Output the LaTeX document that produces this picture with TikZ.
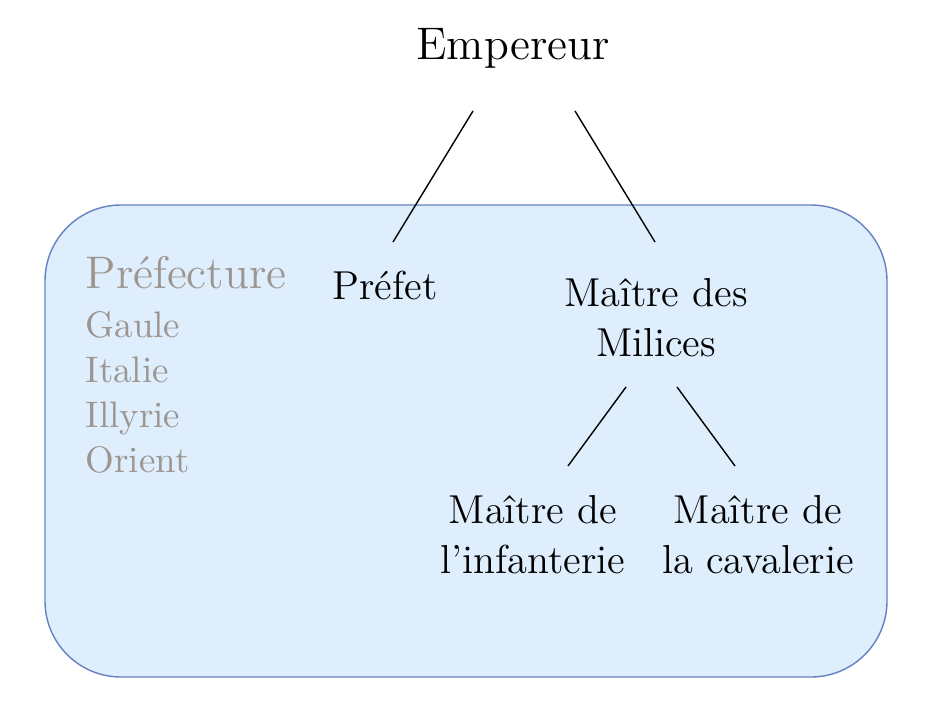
\documentclass[tikz,border=0pt]{standalone}
\usepackage{tikz}
\usetikzlibrary{positioning}
\usetikzlibrary{calc}
\definecolor{fondbleu}{HTML}{DEEEFD}
\definecolor{bordbleu}{HTML}{6482C2}
\definecolor{grisprov}{HTML}{9C9690}
\tikzstyle{cadre}=[draw=bordbleu,fill=fondbleu,rounded corners=0.76cm,line width=0.4pt]
\tikzstyle{titre}=[text=black,font=\fontsize{13}{16}\selectfont,inner sep=2pt]
\tikzstyle{poste}=[text=black,align=center,font=\fontsize{11.5}{14.2}\selectfont,inner sep=2pt]
\tikzstyle{region}=[text=grisprov,anchor=base west,font=\fontsize{10.5}{12}\selectfont,inner sep=0pt]
\tikzstyle{lien}=[-,line width=0.4pt,black]

\begin{document}
\begin{tikzpicture}
\useasboundingbox (0,0) rectangle (9.38,7.24);
\draw[cadre] (0.45,0.47) rectangle (8.87,5.19);
\node[titre] (emp) at (5.13,6.76) {Empereur};
\node[poste] (prefet) at (3.85,4.39) {Préfet};
\node[poste] (milices) at (6.56,4.06) {Maître des\\Milices};
\node[poste] (infant) at (5.33,1.89) {Maître de\\l'infanterie};
\node[poste] (caval) at (7.58,1.89) {Maître de\\la cavalerie};
\node[region,font=\fontsize{13}{15}\selectfont] (pref) at (0.85,4.36) {Préfecture};
\node[region] (gaule) at (0.85,3.87) {Gaule};
\node[region] (italie) at (0.85,3.42) {Italie};
\node[region] (illyrie) at (0.85,2.97) {Illyrie};
\node[region] (orient) at (0.85,2.52) {Orient};
%Placementdesliens
\draw[lien] ($(emp)+(-0.40,-0.63)$) -- ($(prefet)+(0.08,0.43)$);
\draw[lien] ($(emp)+(0.62,-0.63)$) -- ($(milices)+(-0.01,0.76)$);
\draw[lien] ($(milices)+(-0.30,-0.69)$) -- ($(infant)+(0.35,0.69)$);
\draw[lien] ($(milices)+(0.21,-0.69)$) -- ($(caval)+(-0.23,0.69)$);
\end{tikzpicture}
\end{document}
